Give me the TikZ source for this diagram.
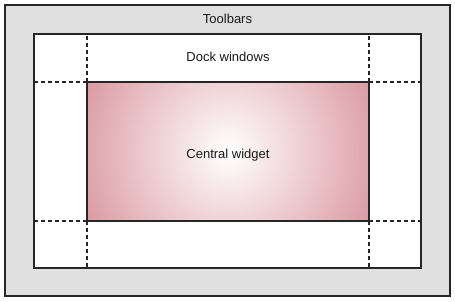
\documentclass[tikz,border=0pt]{standalone}
\usepackage{fontspec}
\setmainfont{Liberation Sans}
\usetikzlibrary{positioning}
\definecolor{framegray}{HTML}{E0E0E0}
\definecolor{widgetpink}{HTML}{DB9AA2}

\begin{document}
\begin{tikzpicture}[
    x=1pt, y=-1pt,
    area/.style={rectangle, draw=black!85, line width=1.1pt, outer sep=0pt,
                 inner sep=0pt},
    glow/.style={path picture={
        \shade[inner color=white, outer color=widgetpink]
            (path picture bounding box.center) circle (158pt);}},
    dockline/.style={black!85, line width=1.1pt, dash pattern=on 4pt off 3pt},
    caption/.style={font=\fontsize{13}{15}\selectfont, text=black!90},
]
\useasboundingbox (0,0) rectangle (455,302);
% Main window frame
\node[area, fill=framegray, minimum width=445pt, minimum height=291pt] (toolbars) at (227.5,150.5) {};
\node[area, fill=white, minimum width=387pt, minimum height=234pt] (dockarea) at (227.5,151) {};
\node[area, glow, minimum width=282pt, minimum height=139pt] (central) at (228,151.5) {};
% Dock area borders
\foreach \c/\h/\v in {north west/west/north, north east/east/north,
                      south west/west/south, south east/east/south} {
    \draw[dockline] (central.\c) -- (central.\c -| dockarea.\h);
    \draw[dockline] (central.\c) -- (central.\c |- dockarea.\v);
}
\draw[black!85, line width=1.1pt] (central.north west) rectangle (central.south east);
% Labels
\node[caption] (toolbarstext) at (227.5,19) {Toolbars};
\node[caption] (docktext) at (228,57) {Dock windows};
\node[caption] (centraltext) at (228,155) {Central widget};
\end{tikzpicture}
\end{document}
